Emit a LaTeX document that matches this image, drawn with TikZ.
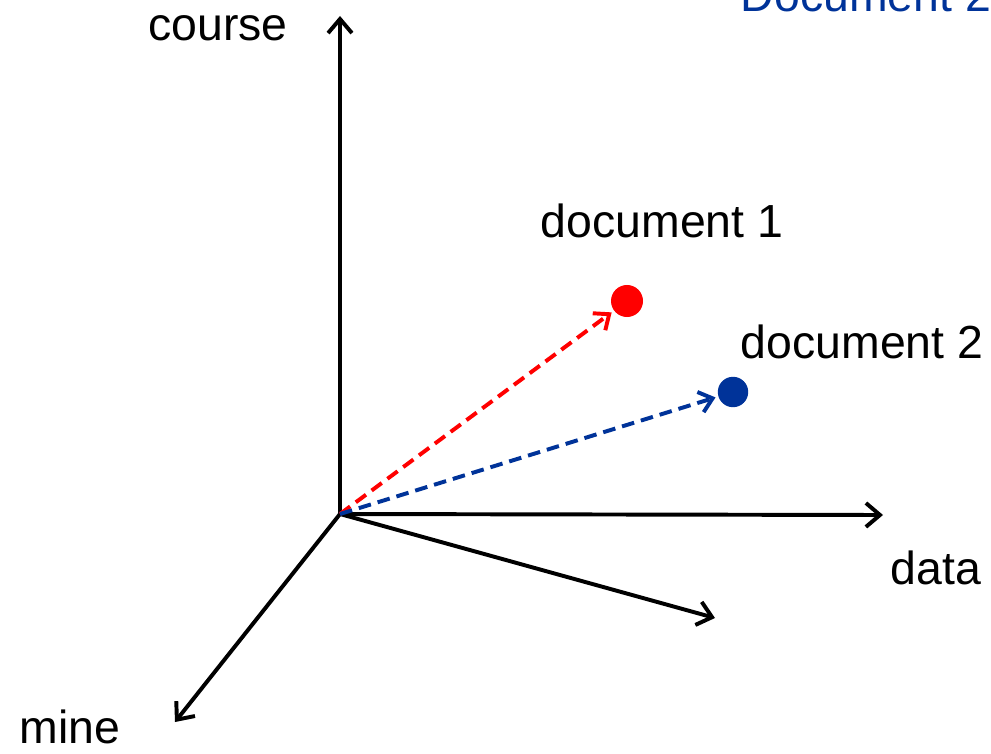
\documentclass[tikz,border=0pt]{standalone}
\usepackage{fontspec}
\setmainfont{Liberation Sans}
\usetikzlibrary{arrows.meta}
\definecolor{doc-red}{RGB}{255,0,0}
\definecolor{doc-blue}{RGB}{0,51,153}
\tikzset{
  axis/.style={line width=2.8pt, -{Straight Barb[length=10pt,width=17pt,line width=2.8pt]}},
  docvec/.style={line width=2.8pt, dash pattern=on 9pt off 5pt, shorten >=2pt, -{Straight Barb[length=9pt,width=15pt,line width=2.8pt]}},
  lbl/.style={font=\fontsize{33}{40}\selectfont, inner sep=0pt, anchor=base},
  docdot/.style={circle, inner sep=0pt, minimum size=0.8cm},
}

\begin{document}
\begin{tikzpicture}[x=0.025cm, y=-0.025cm]
  \useasboundingbox (0,0) rectangle (991,754);
  \clip (0,0) rectangle (991,754);

  % axes
  \coordinate (origin) at (340,514);
  \coordinate (course-end) at (340,16);
  \coordinate (data-end) at (883,515);
  \coordinate (third-end) at (715,618);
  \coordinate (mine-end) at (175,722);
  \draw[axis] (origin) -- (course-end);
  \draw[axis] (origin) -- (data-end);
  \draw[axis] (origin) -- (third-end);
  \draw[axis] (origin) -- (mine-end);

  % axis labels
  \node[lbl] (course-label) at (218,41) {course};
  \node[lbl] (data-label) at (936,584) {data};
  \node[lbl] (mine-label) at (70,743) {mine};

  % documents
  \node[docdot, fill=doc-red] (doc1) at (627,301) {};
  \node[docdot, fill=doc-blue, minimum size=0.76cm] (doc2) at (733,392) {};
  \draw[docvec, doc-red] (origin) -- (doc1);
  \draw[docvec, doc-blue] (origin) -- (doc2);
  \node[lbl] (doc1-label) at (662,238) {document 1};
  \node[lbl] (doc2-label) at (862,358) {document 2};

  % title, cut off at the top
  \node[lbl, text=doc-blue] (doc2-title) at (866,12) {Document 2};
\end{tikzpicture}
\end{document}
